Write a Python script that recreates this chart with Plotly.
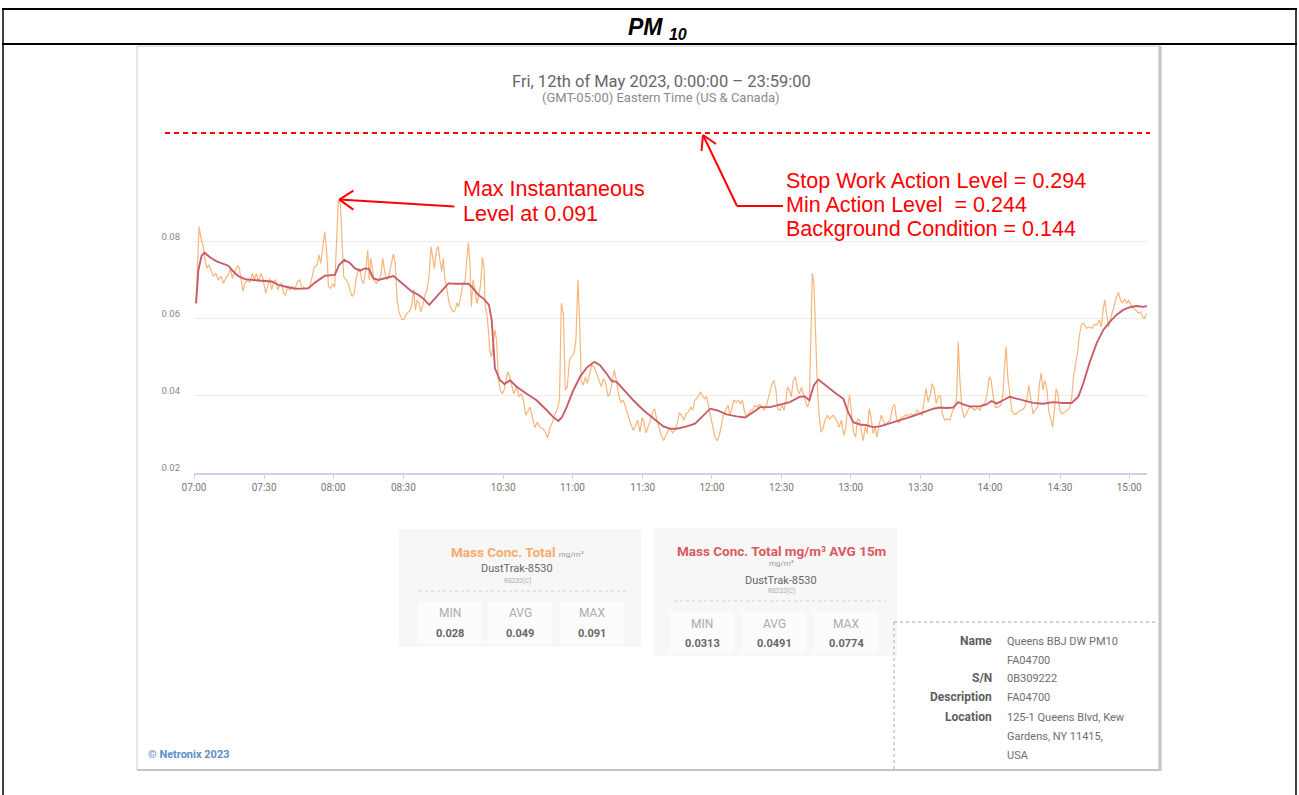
import plotly.graph_objects as go

W, H = 1299, 795

# minutes along the (compressed) time axis, mg/m3
raw_t = [0.9, 2.2, 3.0, 4.0, 4.8, 5.5, 6.5, 7.3, 8.4, 9.4,
         10.5, 11.7, 12.7, 13.7, 14.8, 15.7, 16.6, 17.7, 18.9, 19.6,
         20.3, 21.2, 22.0, 23.2, 24.2, 25.2, 26.1, 27.0, 27.8, 29.0,
         29.8, 31.0, 31.8, 32.7, 33.6, 34.4, 35.3, 36.2, 37.0, 37.9,
         38.8, 39.6, 40.5, 41.4, 42.5, 43.7, 44.8, 45.7, 46.5, 48.3,
         50.1, 51.2, 52.0, 53.2, 54.0, 54.8, 55.6, 56.5, 57.4, 58.1,
         59.1, 60.0, 60.8, 61.5, 62.4, 63.3, 64.0, 64.7, 65.7, 66.7,
         67.6, 68.4, 69.3, 70.0, 70.8, 71.6, 72.5, 73.3, 74.2, 75.1,
         75.8, 76.4, 77.1, 77.8, 78.8, 80.0, 80.8, 81.6, 82.4, 83.3,
         84.2, 85.0, 86.2, 87.0, 87.8, 88.6, 89.8, 90.8, 91.6, 92.7,
         93.5, 94.2, 95.0, 95.7, 96.5, 97.4, 98.1, 99.0, 99.9, 100.7,
         101.6, 102.5, 103.2, 103.9, 104.8, 105.6, 106.3, 107.1, 107.8, 108.5,
         109.4, 110.2, 111.1, 112.1, 113.0, 113.7, 114.4, 115.3, 116.1, 117.2,
         117.9, 118.6, 119.3, 119.9, 120.6, 121.5, 122.3, 123.2, 123.9, 124.7,
         125.4, 125.9, 126.7, 127.2, 128.0, 128.7, 129.4, 130.1, 130.8, 131.6,
         132.4, 133.3, 134.2, 134.9, 135.6, 136.5, 137.3, 138.2,
         139.5, 140.5, 141.5, 142.4, 143.4, 144.4, 145.3, 146.4, 147.4, 148.4,
         149.6, 150.7, 151.7, 152.9, 153.9, 155.0, 156.1, 157.1, 158.0, 158.8,
         159.7, 160.5, 161.4, 162.3, 163.3, 164.3, 165.1, 166.0, 166.7, 167.4,
         168.3, 169.2, 170.0, 170.9, 171.9, 172.9, 174.1, 175.1, 176.1, 177.0,
         178.0, 179.0, 179.8, 180.9, 181.7, 182.7, 183.6, 184.6, 185.6, 186.8,
         187.8, 188.8, 189.9, 191.0, 191.8, 192.8, 193.7, 194.5, 195.4, 196.4,
         197.4, 198.3, 199.1, 200.0, 201.0, 202.0, 203.0, 204.0, 205.1, 206.1,
         206.9, 208.0, 209.0, 209.8, 210.8, 211.8, 212.7, 213.7, 214.7, 215.6,
         216.5, 217.3, 218.2, 219.0, 219.9, 220.8, 221.6, 222.5, 223.4, 224.2,
         225.2, 226.3, 227.1, 228.0, 228.8, 229.8, 230.9, 231.7, 232.6, 233.4,
         234.3, 235.3, 236.2, 237.1, 237.9, 238.9, 239.8, 240.7, 241.5, 242.5,
         243.5, 244.4, 245.4, 246.4, 247.3, 248.1, 249.0, 249.9, 250.7, 251.6,
         252.3, 253.3, 254.2, 255.1, 255.9, 256.6, 257.4, 258.2, 259.1, 260.0,
         260.8, 261.7, 262.6, 263.4, 264.3, 265.2, 266.0, 266.7, 267.3, 268.0,
         268.7, 269.5, 270.2, 271.1, 271.9, 272.8, 273.8, 274.7,
         276.3, 277.8, 278.9, 279.9, 280.9, 281.8, 282.5, 283.4, 284.3, 285.1,
         286.0, 286.9, 287.7, 288.6, 289.3, 290.2, 291.0, 291.9, 292.8, 293.6,
         294.5, 295.2, 296.1, 297.1, 297.9, 299.0, 300.0, 301.0, 302.0, 302.9,
         303.7, 304.7, 305.7, 306.7, 307.8, 308.8, 309.8, 310.8, 311.8, 312.8,
         313.8, 314.8, 315.7, 316.5, 317.4, 318.4, 319.1, 320.0, 320.9, 321.7,
         322.6, 323.5, 324.5, 325.6, 326.8, 327.8, 328.8, 329.7, 330.4, 331.1,
         332.0, 333.0, 334.0, 335.1, 336.3, 337.4, 338.6, 339.7, 340.9, 342.0,
         342.9, 343.8, 344.6, 345.5, 346.5, 347.7, 348.7, 349.7, 350.4, 351.1,
         351.8, 352.7, 353.6, 354.6, 355.6, 356.7, 357.9, 359.1, 360.1, 360.9,
         361.8, 362.7, 363.7, 364.7, 365.5, 366.3, 367.0, 367.8, 368.7, 369.6,
         370.4, 371.2, 372.0, 372.7, 373.5, 374.3, 375.3, 376.5, 377.6, 378.6,
         379.5, 380.2, 381.1, 382.0, 382.8, 383.7, 384.7, 385.9, 387.0, 388.2,
         389.3, 390.3, 391.3, 392.2, 393.1, 393.8, 394.5, 395.4, 396.2, 397.1,
         398.0, 398.8, 399.7, 400.6, 401.4, 402.3, 403.2, 404.0, 404.9, 405.7,
         406.6, 407.5, 408.3, 409.2, 410.1, 410.9, 411.8]

raw_v = [0.0640, 0.0840, 0.0810, 0.0788, 0.0753, 0.0731, 0.0740, 0.0727, 0.0710, 0.0718,
         0.0701, 0.0710, 0.0692, 0.0705, 0.0714, 0.0731, 0.0705, 0.0723, 0.0738, 0.0731,
         0.0701, 0.0671, 0.0692, 0.0701, 0.0694, 0.0718, 0.0701, 0.0718, 0.0697, 0.0718,
         0.0705, 0.0666, 0.0684, 0.0705, 0.0675, 0.0697, 0.0701, 0.0675, 0.0688, 0.0692,
         0.0666, 0.0662, 0.0684, 0.0675, 0.0684, 0.0679, 0.0697, 0.0701, 0.0684, 0.0679,
         0.0684, 0.0710, 0.0734, 0.0740, 0.0766, 0.0744, 0.0779, 0.0827, 0.0775, 0.0685,
         0.0679, 0.0691, 0.0682, 0.0788, 0.0910, 0.0897, 0.0788, 0.0710, 0.0701, 0.0692,
         0.0671, 0.0658, 0.0666, 0.0701, 0.0723, 0.0731, 0.0701, 0.0692, 0.0723, 0.0779,
         0.0701, 0.0758, 0.0731, 0.0701, 0.0692, 0.0701, 0.0714, 0.0758, 0.0723, 0.0701,
         0.0710, 0.0731, 0.0769, 0.0744, 0.0649, 0.0618, 0.0598, 0.0598, 0.0610, 0.0618,
         0.0623, 0.0640, 0.0675, 0.0623, 0.0649, 0.0638, 0.0618, 0.0636, 0.0662, 0.0675,
         0.0710, 0.0788, 0.0753, 0.0731, 0.0779, 0.0788, 0.0753, 0.0723, 0.0758, 0.0701,
         0.0675, 0.0644, 0.0627, 0.0618, 0.0624, 0.0642, 0.0631, 0.0658, 0.0685, 0.0701,
         0.0753, 0.0798, 0.0745, 0.0631, 0.0701, 0.0675, 0.0640, 0.0662, 0.0688, 0.0760,
         0.0731, 0.0631, 0.0610, 0.0579, 0.0514, 0.0501, 0.0536, 0.0571, 0.0544, 0.0444,
         0.0414, 0.0405, 0.0418, 0.0440, 0.0462, 0.0449, 0.0427, 0.0405,
         0.0423, 0.0397, 0.0405, 0.0388, 0.0349, 0.0362, 0.0370, 0.0340, 0.0317, 0.0331,
         0.0318, 0.0314, 0.0308, 0.0290, 0.0318, 0.0331, 0.0353, 0.0366, 0.0388, 0.0640,
         0.0614, 0.0414, 0.0423, 0.0492, 0.0503, 0.0510, 0.0544, 0.0701, 0.0597, 0.0440,
         0.0427, 0.0449, 0.0431, 0.0457, 0.0479, 0.0475, 0.0453, 0.0440, 0.0423, 0.0444,
         0.0431, 0.0398, 0.0405, 0.0440, 0.0466, 0.0436, 0.0401, 0.0383, 0.0388, 0.0366,
         0.0343, 0.0327, 0.0310, 0.0323, 0.0337, 0.0305, 0.0343, 0.0331, 0.0303, 0.0318,
         0.0337, 0.0357, 0.0366, 0.0340, 0.0314, 0.0296, 0.0283, 0.0296, 0.0310, 0.0314,
         0.0303, 0.0311, 0.0329, 0.0355, 0.0349, 0.0336, 0.0353, 0.0357, 0.0370, 0.0362,
         0.0388, 0.0392, 0.0401, 0.0410, 0.0398, 0.0392, 0.0398, 0.0370, 0.0340, 0.0314,
         0.0292, 0.0283, 0.0296, 0.0323, 0.0349, 0.0362, 0.0375, 0.0349, 0.0370, 0.0388,
         0.0383, 0.0388, 0.0379, 0.0388, 0.0362, 0.0343, 0.0353, 0.0362, 0.0363, 0.0375,
         0.0370, 0.0377, 0.0372, 0.0363, 0.0370, 0.0388, 0.0410, 0.0431, 0.0440, 0.0414,
         0.0366, 0.0362, 0.0375, 0.0362, 0.0388, 0.0423, 0.0414, 0.0397, 0.0440, 0.0449,
         0.0418, 0.0405, 0.0421, 0.0405, 0.0392, 0.0370, 0.0383, 0.0597, 0.0718, 0.0692,
         0.0562, 0.0423, 0.0353, 0.0305, 0.0314, 0.0336, 0.0349, 0.0340,
         0.0349, 0.0336, 0.0318, 0.0336, 0.0296, 0.0318, 0.0362, 0.0401, 0.0353, 0.0305,
         0.0292, 0.0340, 0.0336, 0.0301, 0.0283, 0.0318, 0.0301, 0.0366, 0.0340, 0.0301,
         0.0318, 0.0292, 0.0318, 0.0349, 0.0336, 0.0323, 0.0331, 0.0337, 0.0370, 0.0377,
         0.0340, 0.0329, 0.0343, 0.0344, 0.0351, 0.0346, 0.0353, 0.0349, 0.0353, 0.0362,
         0.0353, 0.0349, 0.0388, 0.0418, 0.0383, 0.0405, 0.0431, 0.0418, 0.0379, 0.0397,
         0.0401, 0.0353, 0.0336, 0.0340, 0.0336, 0.0357, 0.0370, 0.0397, 0.0540, 0.0440,
         0.0366, 0.0343, 0.0355, 0.0369, 0.0369, 0.0362, 0.0369, 0.0362, 0.0377, 0.0381,
         0.0405, 0.0449, 0.0440, 0.0397, 0.0369, 0.0370, 0.0375, 0.0401, 0.0475, 0.0527,
         0.0449, 0.0397, 0.0360, 0.0351, 0.0353, 0.0360, 0.0362, 0.0369, 0.0392, 0.0427,
         0.0392, 0.0353, 0.0363, 0.0370, 0.0431, 0.0459, 0.0414, 0.0440, 0.0418, 0.0357,
         0.0340, 0.0318, 0.0362, 0.0418, 0.0405, 0.0362, 0.0353, 0.0357, 0.0362, 0.0369,
         0.0397, 0.0449, 0.0479, 0.0514, 0.0557, 0.0586, 0.0588, 0.0575, 0.0579, 0.0575,
         0.0586, 0.0584, 0.0597, 0.0579, 0.0627, 0.0649, 0.0614, 0.0579, 0.0598, 0.0618,
         0.0636, 0.0656, 0.0668, 0.0647, 0.0642, 0.0651, 0.0640, 0.0649, 0.0638, 0.0631,
         0.0624, 0.0621, 0.0614, 0.0618, 0.0605, 0.0601, 0.0614]

avg_t = [0.9, 1.9, 3.3, 4.5, 6.9, 9.8, 12.7, 14.8, 17.0, 19.2,
         22.0, 24.9, 29.2, 33.6, 36.5, 39.3, 43.7, 49.4, 52.3, 56.6,
         60.9, 62.7, 65.0, 67.4, 69.6, 71.8, 73.9, 75.7, 77.5, 79.7,
         82.6, 86.2, 88.3, 91.2, 94.1, 97.0, 99.1, 101.7, 104.2, 107.1,
         110.0, 112.8, 115.7, 118.6, 120.3, 122.9, 125.1, 127.5, 128.7, 129.4,
         130.1, 132.3, 134.2, 136.6, 139.5, 143.8, 148.1, 152.5, 155.3, 157.5,
         159.0, 161.1, 164.0, 166.9, 169.8, 173.1, 175.5, 178.4, 180.6, 182.7,
         185.6, 189.9, 194.3, 198.6, 202.9, 205.8, 208.7, 213.0, 216.6, 219.5,
         223.1, 226.0, 230.3, 234.6, 238.2, 241.8, 244.7, 249.0, 253.3, 257.6,
         262.0, 264.1, 266.0, 268.0, 269.9, 272.1, 275.0, 277.8, 280.7, 282.8,
         285.0, 287.9, 290.8, 293.6, 296.5, 299.4, 302.3, 305.2, 309.5, 313.8,
         316.7, 319.6, 322.5, 325.3, 328.2, 330.4, 332.5, 335.4, 339.7, 342.6,
         344.8, 347.0, 349.8, 352.7, 355.6, 359.9, 362.8, 367.1, 371.4, 375.8,
         379.4, 382.3, 384.4, 387.3, 390.2, 393.1, 395.9, 398.8, 401.7, 404.6,
         407.5, 410.4, 412.0]

avg_v = [0.0640, 0.0727, 0.0764, 0.0772, 0.0760, 0.0749, 0.0743, 0.0738, 0.0723, 0.0711,
         0.0703, 0.0701, 0.0699, 0.0697, 0.0688, 0.0684, 0.0678, 0.0679, 0.0694, 0.0712,
         0.0714, 0.0740, 0.0753, 0.0745, 0.0731, 0.0725, 0.0731, 0.0729, 0.0705, 0.0701,
         0.0705, 0.0711, 0.0701, 0.0685, 0.0671, 0.0662, 0.0653, 0.0636, 0.0653, 0.0675,
         0.0692, 0.0691, 0.0691, 0.0691, 0.0682, 0.0662, 0.0653, 0.0636, 0.0597, 0.0527,
         0.0471, 0.0440, 0.0430, 0.0440, 0.0423, 0.0405, 0.0388, 0.0362, 0.0344, 0.0334,
         0.0343, 0.0370, 0.0414, 0.0449, 0.0473, 0.0488, 0.0479, 0.0457, 0.0438, 0.0436,
         0.0416, 0.0388, 0.0362, 0.0340, 0.0320, 0.0314, 0.0314, 0.0320, 0.0327, 0.0344,
         0.0366, 0.0362, 0.0351, 0.0346, 0.0343, 0.0357, 0.0370, 0.0370, 0.0377, 0.0383,
         0.0397, 0.0398, 0.0388, 0.0427, 0.0442, 0.0431, 0.0418, 0.0404, 0.0392, 0.0357,
         0.0331, 0.0325, 0.0323, 0.0318, 0.0320, 0.0325, 0.0331, 0.0336, 0.0344, 0.0353,
         0.0360, 0.0366, 0.0369, 0.0368, 0.0369, 0.0383, 0.0377, 0.0372, 0.0372, 0.0377,
         0.0386, 0.0379, 0.0388, 0.0397, 0.0392, 0.0386, 0.0381, 0.0379, 0.0383, 0.0381,
         0.0381, 0.0397, 0.0431, 0.0488, 0.0536, 0.0571, 0.0592, 0.0610, 0.0623, 0.0630,
         0.0633, 0.0631, 0.0633]

tick_pos = [0, 30.3, 60.2, 90.5, 133.7, 163.6, 194.0, 223.9, 254.0, 283.9, 314.1, 344.1, 374.4, 404.3]
tick_txt = ["07:00", "07:30", "08:00", "08:30", "10:30", "11:00", "11:30",
            "12:00", "12:30", "13:00", "13:30", "14:00", "14:30", "15:00"]
y_ticks = [0.02, 0.04, 0.06, 0.08, 0.10]
y_txt = ["0.02", "0.04", "0.06", "0.08", ""]

max_note = ["Max Instantaneous", "Level at 0.091"]
levels = ["Stop Work Action Level = 0.294",
          "Min Action Level \u00a0= 0.244",
          "Background Condition = 0.144"]
stat_names = ["MIN", "AVG", "MAX"]
raw_stats = ["0.028", "0.049", "0.091"]
avg_stats = ["0.0313", "0.0491", "0.0774"]
info_labels = ["Name", "", "S/N", "Description", "Location", "", ""]
info_values = ["Queens BBJ DW PM10", "FA04700", "0B309222", "FA04700",
               "125-1 Queens Blvd, Kew", "Gardens, NY 11415,", "USA"]

RED = "#ff0000"
ARIAL = "Liberation Sans, Arial, sans-serif"
ROBOTO = "Roboto, sans-serif"


def px(x):
    return x / W


def py(y):
    return 1 - y / H


fig = go.Figure()
fig.add_trace(go.Scatter(x=raw_t, y=raw_v, mode="lines", name="Mass Conc. Total",
                         line=dict(color="rgba(245,168,100,0.85)", width=1.2)))
fig.add_trace(go.Scatter(x=avg_t, y=avg_v, mode="lines", name="AVG 15m",
                         line=dict(color="#c75d69", width=1.9)))

shapes = []
annots = []


def line(x0, y0, x1, y1, color, width, dash="solid"):
    shapes.append(dict(type="line", xref="paper", yref="paper",
                       x0=px(x0), y0=py(y0), x1=px(x1), y1=py(y1),
                       line=dict(color=color, width=width, dash=dash)))


def rect(x0, y0, x1, y1, fill, color="rgba(0,0,0,0)", width=0):
    shapes.append(dict(type="rect", xref="paper", yref="paper", layer="below",
                       x0=px(x0), y0=py(y0), x1=px(x1), y1=py(y1),
                       fillcolor=fill, line=dict(color=color, width=width)))


def text(x, y, s, size, color, anchor="center", family=ROBOTO):
    annots.append(dict(xref="paper", yref="paper", x=px(x), y=py(y), text=s,
                       showarrow=False, xanchor=anchor, yanchor="middle",
                       font=dict(family=family, size=size, color=color)))


# outer table frame
line(2, 9, 1297, 9, "black", 2)
line(2, 44, 1297, 44, "black", 2)
line(3, 9, 3, 795, "black", 1.5)
line(1296, 9, 1296, 795, "black", 1.5)
text(657, 29, "<b><i>PM <sub>10</sub></i></b>", 23, "black", family=ARIAL)

# screenshot box
rect(137, 46, 1160, 770, "rgba(0,0,0,0)", "#cccccc", 1)
line(1160, 46, 1160, 771, "#c4c4c4", 3)
line(137, 770, 1161, 770, "#c4c4c4", 2)

# chart titles
text(661, 82, "Fri, 12th of May 2023, 0:00:00 \u2013 23:59:00", 16.5, "#666666")
text(661, 98, "(GMT-05:00) Eastern Time (US & Canada)", 13, "#8a8a8a")

# level line with its bent arrow
line(165, 133, 1150, 133, RED, 2, "5px,4px")
line(737, 206, 783, 206, RED, 2)
line(737, 206, 703, 135, RED, 2)
line(703, 135, 701.5, 151, RED, 2)
line(703, 135, 716, 144, RED, 2)

# arrow to the maximum reading, offsets in pixels from the peak
i_max = raw_v.index(max(raw_v))
for dx, dy in [(116, -7), (15, 9), (15, -10)]:
    shapes.append(dict(type="line", xref="x", yref="y",
                       xsizemode="pixel", ysizemode="pixel",
                       xanchor=raw_t[i_max], yanchor=raw_v[i_max],
                       x0=1, y0=0, x1=dx, y1=dy,
                       line=dict(color=RED, width=2)))

for y, s in zip([189, 214], max_note):
    text(461, y, s, 21.5, RED, anchor="left", family=ARIAL)
for y, s in zip([181, 205, 229], levels):
    text(784, y, s, 21.5, RED, anchor="left", family=ARIAL)

# stat cards
cards = [
    dict(box=(399, 529, 641, 647), cx=517, title_y=552,
         title="<b>Mass Conc. Total</b> <span style='font-size:8px;color:#999'>mg/m\u00b3</span>",
         title_color="#f5ac6c", unit_y=None, dev_y=568, rs_y=581, sep_y=591,
         cols=[450, 520, 592], sub_w=32, sub_y=(602, 643), lab_y=613, val_y=633,
         stats=raw_stats),
    dict(box=(654, 528, 897, 656), cx=781, title_y=551,
         title="<b>Mass Conc. Total mg/m\u00b3 AVG 15m</b>",
         title_color="#d95a5d", unit_y=563, dev_y=580, rs_y=591, sep_y=601,
         cols=[702, 774, 846], sub_w=32, sub_y=(612, 653), lab_y=624, val_y=643,
         stats=avg_stats),
]
for c in cards:
    x0, y0, x1, y1 = c["box"]
    rect(x0, y0, x1, y1, "#f7f7f7")
    for cx in c["cols"]:
        rect(cx - c["sub_w"], c["sub_y"][0], cx + c["sub_w"], c["sub_y"][1], "#fcfcfc")
    text(c["cx"], c["title_y"], c["title"], 13.5, c["title_color"])
    if c["unit_y"]:
        text(c["cx"], c["unit_y"], "mg/m\u00b3", 8, "#999")
    text(c["cx"], c["dev_y"], "DustTrak-8530", 11, "#666")
    text(c["cx"], c["rs_y"], "RS232(C)", 6.5, "#aaa")
    line(x0 + 20, c["sep_y"], x1 - 12, c["sep_y"], "#cfcfcf", 1, "dot")
    for cx, name, val in zip(c["cols"], stat_names, c["stats"]):
        text(cx, c["lab_y"], name, 12, "#ababab")
        text(cx, c["val_y"], "<b>" + val + "</b>", 11, "#666")

# info box
line(894, 622, 1158, 622, "#a8a8a8", 1, "dot")
line(894, 622, 894, 770, "#a8a8a8", 1, "dot")
row_y = [641, 660, 678, 697, 717, 736, 755]
for y, lab, val in zip(row_y, info_labels, info_values):
    if lab:
        text(994, y, "<b>" + lab + "</b>", 12, "#5e5e5e", anchor="right")
    text(1005, y, val, 11, "#6e6e6e", anchor="left")

text(146, 754, "<b>\u00a9 Netronix 2023</b>", 11, "#5b8ec6", anchor="left")

fig.update_layout(
    autosize=True,
    margin=dict(l=0, r=0, t=0, b=0, pad=0, autoexpand=False),
    paper_bgcolor="white", plot_bgcolor="white",
    showlegend=False,
    font=dict(family=ROBOTO, color="#777"),
    xaxis=dict(domain=[px(194), px(1147)], range=[0, 412], automargin=False,
               tickvals=tick_pos, ticktext=tick_txt,
               showgrid=False, zeroline=False, showline=True,
               linecolor="#cdd2ea", linewidth=1.5,
               ticks="outside", ticklen=5, tickcolor="#cdd2ea",
               tickfont=dict(family=ROBOTO, size=10, color="#777")),
    yaxis=dict(domain=[py(472.5), py(165)], range=[0.02, 0.10], automargin=False,
               tickvals=y_ticks, ticktext=y_txt,
               showgrid=True, gridcolor="#ebebeb", gridwidth=1,
               zeroline=False, showline=False, ticks="",
               ticklabelstandoff=13, ticklabelshift=-5,
               tickfont=dict(family=ROBOTO, size=9.5, color="#888")),
    shapes=shapes,
    annotations=annots,
)

# fill the window exactly: no body margin, no scrollbars
fig.write_html("out.html",
               default_width="100vw", default_height="100vh",
               config={"displayModeBar": False, "responsive": True},
               post_script="document.body.style.margin='0';"
                           "document.documentElement.style.overflow='hidden';"
                           "document.body.style.overflow='hidden';"
                           "window.dispatchEvent(new Event('resize'));")
